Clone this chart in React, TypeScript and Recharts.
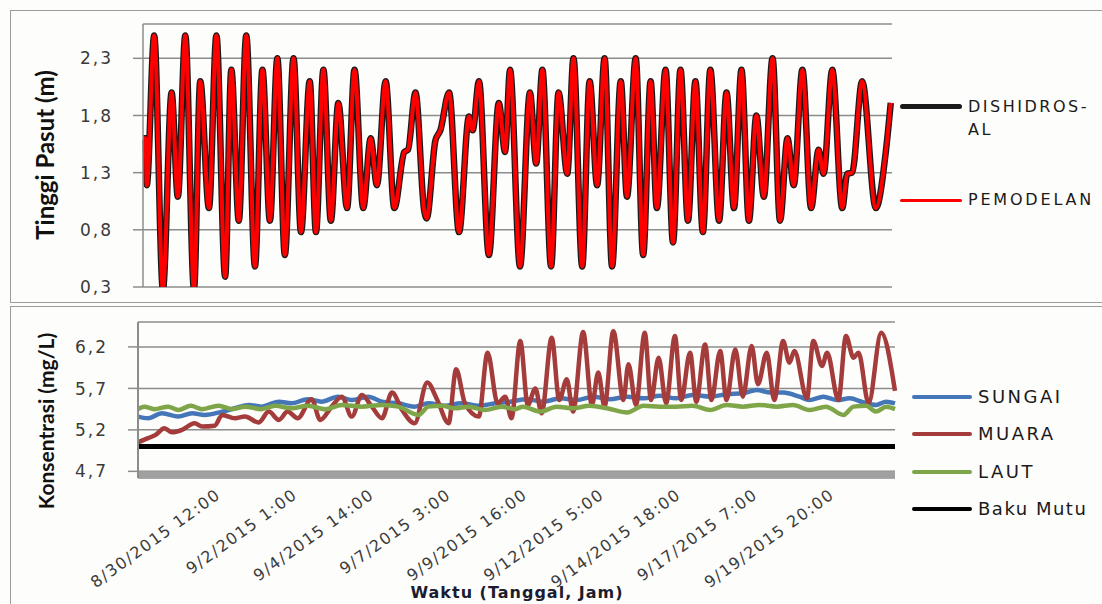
import React from 'react';
import { LineChart, Line, XAxis, YAxis, CartesianGrid, ReferenceArea } from 'recharts';

// x values are hours from the first record (hourly data, 8/27/2015 19:00 = 0)
const TIDE_TICKS = [0.3, 0.8, 1.3, 1.8, 2.3];
const CONC_TICKS = [4.7, 5.2, 5.7, 6.2];
const TIME_TICKS = [65, 126, 187, 248, 309, 370, 431, 492, 553];
const TIME_LABELS = [
  '8/30/2015 12:00', '9/2/2015 1:00', '9/4/2015 14:00', '9/7/2015 3:00', '9/9/2015 16:00',
  '9/12/2015 5:00', '9/14/2015 18:00', '9/17/2015 7:00', '9/19/2015 20:00',
];

// tide height (m): [hour, value] at each turning point
const PEMODELAN: [number, number][] = [
  [0, 1.6], [2, 1.6], [3, 1.19], [9, 2.5], [16, 0.28], [23, 2.0], [28, 1.09], [34, 2.5], [41, 0.28],
  [46, 2.1], [53, 0.99], [59, 2.5], [66, 0.39], [71, 2.2], [77, 0.88], [83, 2.5], [90, 0.48], [96, 2.2],
  [102, 0.88], [108, 2.3], [114, 0.58], [121, 2.3], [127, 0.78], [134, 2.1], [139, 0.78], [145, 2.2],
  [151, 0.88], [157, 1.91], [164, 0.99], [170, 2.2], [177, 0.99], [183, 1.6], [188, 1.19], [195, 2.1],
  [202, 0.99], [210, 1.48], [213, 1.5], [219, 2.0], [226, 0.97], [228, 0.9], [235, 1.58], [239, 1.67],
  [246, 2.0], [254, 0.78], [262, 1.79], [265, 1.67], [270, 2.1], [278, 0.58], [286, 1.91], [291, 1.48],
  [295, 2.2], [303, 0.48], [311, 2.0], [316, 1.38], [321, 2.2], [328, 0.48], [334, 2.0], [341, 1.29],
  [346, 2.3], [353, 0.48], [359, 2.1], [365, 1.19], [371, 2.3], [377, 0.48], [384, 2.1], [389, 1.09],
  [396, 2.3], [402, 0.58], [408, 2.1], [413, 0.99], [420, 2.2], [426, 0.69], [432, 2.2], [438, 0.88],
  [444, 2.1], [450, 0.78], [456, 2.2], [463, 0.88], [469, 2.0], [475, 0.99], [481, 2.2], [487, 0.88],
  [493, 1.8], [499, 1.09], [506, 2.3], [512, 0.88], [518, 1.6], [523, 1.19], [530, 2.2], [537, 0.99],
  [543, 1.5], [547, 1.29], [554, 2.2], [562, 0.99], [566, 1.29], [570, 1.3], [578, 2.1], [589, 0.99],
  [597, 1.48], [601, 1.91],
];
// observed tide overlaps the model everywhere in the picture
const DISHIDROS: [number, number][] = PEMODELAN.map(([h, v]) => [h, v]);

// concentration (mg/L)
const SUNGAI: [number, number][] = [
  [0, 5.36], [8, 5.34], [19, 5.4], [32, 5.36], [43, 5.4], [53, 5.38], [67, 5.42], [77, 5.46], [88, 5.5],
  [98, 5.48], [112, 5.54], [122, 5.52], [135, 5.57], [146, 5.54], [159, 5.6], [170, 5.56], [183, 5.6],
  [194, 5.54], [207, 5.52], [220, 5.48], [231, 5.52], [244, 5.49], [257, 5.52], [271, 5.49], [284, 5.52],
  [296, 5.54], [309, 5.57], [322, 5.54], [336, 5.58], [349, 5.56], [362, 5.6], [375, 5.57], [389, 5.6],
  [402, 5.58], [415, 5.61], [428, 5.58], [441, 5.62], [455, 5.6], [468, 5.63], [481, 5.64], [492, 5.68],
  [503, 5.65], [513, 5.65], [526, 5.6], [534, 5.56], [545, 5.6], [556, 5.56], [566, 5.58], [577, 5.53],
  [587, 5.5], [595, 5.54], [602, 5.52],
];
const MUARA: [number, number][] = [
  [0, 5.05], [8, 5.1], [14, 5.14], [21, 5.22], [27, 5.17], [35, 5.2], [45, 5.28], [51, 5.24], [61, 5.25],
  [67, 5.38], [77, 5.34], [85, 5.36], [96, 5.29], [104, 5.42], [112, 5.32], [119, 5.42], [127, 5.34],
  [138, 5.57], [145, 5.32], [154, 5.48], [162, 5.6], [170, 5.36], [178, 5.62], [186, 5.48], [194, 5.34],
  [202, 5.65], [210, 5.44], [220, 5.28], [230, 5.77], [238, 5.56], [247, 5.28], [253, 5.93], [260, 5.52],
  [271, 5.36], [278, 6.13], [286, 5.52], [292, 5.6], [297, 5.34], [304, 6.27], [310, 5.5], [316, 5.7],
  [321, 5.4], [329, 6.31], [335, 5.56], [341, 5.81], [346, 5.42], [354, 6.38], [361, 5.5], [366, 5.89],
  [371, 5.48], [378, 6.39], [386, 5.56], [390, 5.99], [396, 5.5], [403, 6.37], [408, 5.56], [414, 6.07],
  [420, 5.52], [427, 6.33], [432, 5.56], [439, 6.13], [444, 5.54], [451, 6.23], [456, 5.56], [463, 6.15],
  [468, 5.56], [475, 6.17], [481, 5.6], [488, 6.21], [493, 5.75], [500, 6.13], [506, 5.56], [513, 6.27],
  [518, 6.01], [522, 6.15], [532, 5.58], [537, 6.27], [544, 5.97], [548, 6.13], [557, 5.56], [563, 6.33],
  [569, 6.07], [573, 6.13], [581, 5.52], [591, 6.37], [602, 5.67],
];
const LAUT: [number, number][] = [
  [0, 5.45], [5, 5.48], [13, 5.45], [24, 5.48], [32, 5.44], [42, 5.49], [51, 5.45], [64, 5.49], [75, 5.45],
  [85, 5.48], [98, 5.45], [109, 5.49], [122, 5.46], [135, 5.49], [149, 5.45], [162, 5.5], [178, 5.48],
  [194, 5.5], [207, 5.48], [223, 5.38], [231, 5.48], [242, 5.49], [252, 5.46], [263, 5.48], [276, 5.44],
  [289, 5.48], [300, 5.45], [306, 5.48], [320, 5.42], [333, 5.48], [346, 5.46], [359, 5.49], [373, 5.46],
  [389, 5.41], [402, 5.49], [415, 5.48], [428, 5.48], [441, 5.49], [455, 5.44], [468, 5.5], [481, 5.48],
  [494, 5.5], [508, 5.48], [521, 5.5], [534, 5.44], [547, 5.48], [561, 5.38], [569, 5.48], [579, 5.49],
  [587, 5.42], [595, 5.48], [602, 5.45],
];
const BAKU_MUTU: [number, number][] = [[0, 5.0], [602, 5.0]];

const toRows = (pts: [number, number][]) => pts.map(([h, v]) => ({ h, v }));
const comma = (v: number) => v.toFixed(1).replace('.', ',');

const YTick = (props: any) => {
  const { x, y, payload } = props;
  return (
    <text x={x} y={y} dy="0.36em" textAnchor="end" fontSize={17} letterSpacing={2}
      fontFamily="DejaVu Sans" fill="#3a3a3a">
      {comma(payload.value)}
    </text>
  );
};

const TimeTick = (props: any) => {
  const { x, y, payload } = props;
  const i = TIME_TICKS.indexOf(payload.value);
  return (
    <g transform={`translate(${x + 2},${y}) rotate(-36)`}>
      <text x={0} y={0} textAnchor="end" fontSize={16} letterSpacing={1.5}
        fontFamily="DejaVu Sans" fill="#3c3c3c">
        {TIME_LABELS[i]}
      </text>
    </g>
  );
};

const Swatch = ({ x, y, w, color, thick }: any) => (
  <div style={{ position: 'absolute', left: x, top: y - thick / 2, width: w, height: thick, background: color, borderRadius: thick / 2 }} />
);

const Txt = ({ x, y, size, children, spacing = 2 }: any) => (
  <div style={{ position: 'absolute', left: x, top: y - 12, height: 24, lineHeight: '24px', fontSize: size, letterSpacing: spacing, color: '#1a1a1a', fontFamily: 'DejaVu Sans', whiteSpace: 'nowrap' }}>
    {children}
  </div>
);

const VTitle = ({ cx, cy, size, children }: any) => (
  <div style={{ position: 'absolute', left: cx - 150, top: cy - 15, width: 300, height: 30, lineHeight: '30px', textAlign: 'center', transform: 'rotate(-90deg)', fontFamily: 'Lato', fontWeight: 700, fontSize: size, color: '#111' }}>
    {children}
  </div>
);

export default function App() {
  return (
    <div style={{ position: 'absolute', left: 0, top: 0, width: 1102, height: 604, overflow: 'hidden', background: '#fdfdfb' }}>
      <div style={{ position: 'absolute', left: 10, top: 10, width: 1100, height: 291, border: '1.5px solid #9c9c9c' }} />
      <div style={{ position: 'absolute', left: 10, top: 306, width: 1100, height: 400, border: '1.5px solid #9c9c9c' }} />

      <div style={{ position: 'absolute', left: 0, top: 0 }}>
        <LineChart width={1102} height={300} margin={{ top: 24, right: 210, bottom: 13, left: 0 }}>
          <CartesianGrid vertical={false} stroke="#8c8c8c" strokeWidth={1.5} />
          <XAxis type="number" dataKey="h" domain={[0, 602]} hide />
          <YAxis type="number" width={143} domain={[0.3, 2.6]} ticks={TIDE_TICKS} interval={0} allowDataOverflow
            axisLine={{ stroke: '#8c8c8c', strokeWidth: 1.5 }} tickLine={{ stroke: '#8c8c8c', strokeWidth: 1.5 }}
            tickSize={10} tickMargin={20} tick={<YTick />} />
          <Line data={toRows(DISHIDROS)} dataKey="v" type="monotone" stroke="#1a1a1a" strokeWidth={6.5}
            dot={false} isAnimationActive={false} strokeLinejoin="round" />
          <Line data={toRows(PEMODELAN)} dataKey="v" type="monotone" stroke="#ff0000" strokeWidth={4}
            dot={false} isAnimationActive={false} strokeLinejoin="round" />
        </LineChart>
      </div>

      <div style={{ position: 'absolute', left: 0, top: 300 }}>
        <LineChart width={1102} height={304} margin={{ top: 22, right: 207, bottom: 6, left: 0 }}>
          <CartesianGrid vertical={false} stroke="#8c8c8c" strokeWidth={1.5} />
          <XAxis type="number" dataKey="h" domain={[0, 602]} ticks={TIME_TICKS} interval={0}
            axisLine={false} tickLine={false} tickSize={0} tickMargin={19} height={120} tick={<TimeTick />} />
          <YAxis type="number" width={138} domain={[4.62, 6.5]} ticks={CONC_TICKS} interval={0} allowDataOverflow
            axisLine={{ stroke: '#8c8c8c', strokeWidth: 2 }} tickLine={{ stroke: '#8c8c8c', strokeWidth: 1.5 }}
            tickSize={10} tickMargin={20} tick={<YTick />} />
          <ReferenceArea y1={4.62} y2={4.7} fill="#a0a0a0" fillOpacity={1} stroke="none" />
          <Line data={toRows(SUNGAI)} dataKey="v" type="monotone" stroke="#4577b8" strokeWidth={4.5}
            dot={false} isAnimationActive={false} strokeLinejoin="round" />
          <Line data={toRows(MUARA)} dataKey="v" type="monotone" stroke="#a53c3c" strokeWidth={4.5}
            dot={false} isAnimationActive={false} strokeLinejoin="round" />
          <Line data={toRows(LAUT)} dataKey="v" type="monotone" stroke="#7ea648" strokeWidth={4.5}
            dot={false} isAnimationActive={false} strokeLinejoin="round" />
          <Line data={toRows(BAKU_MUTU)} dataKey="v" type="linear" stroke="#000000" strokeWidth={5}
            dot={false} isAnimationActive={false} />
        </LineChart>
      </div>

      <VTitle cx={45} cy={155} size={24}>Tinggi Pasut (m)</VTitle>
      <VTitle cx={46} cy={421} size={21}>Konsentrasi (mg/L)</VTitle>
      <div style={{ position: 'absolute', left: 367, top: 583, width: 300, textAlign: 'center', fontFamily: 'DejaVu Sans', fontWeight: 700, fontSize: 16, letterSpacing: 1, color: '#1c1c30' }}>
        Waktu (Tanggal, Jam)
      </div>

      <Swatch x={900} y={106} w={62} color="#1a1a1a" thick={5} />
      <Txt x={968} y={107} size={16} spacing={2.5}>DISHIDROS-</Txt>
      <Txt x={968} y={130} size={16} spacing={2.5}>AL</Txt>
      <Swatch x={900} y={200} w={62} color="#ff0000" thick={3} />
      <Txt x={968} y={200} size={16} spacing={2.8}>PEMODELAN</Txt>

      <Swatch x={912} y={397} w={60} color="#4577b8" thick={4.5} />
      <Txt x={978} y={397} size={18} spacing={2.5}>SUNGAI</Txt>
      <Swatch x={912} y={434} w={60} color="#a53c3c" thick={4.5} />
      <Txt x={978} y={434} size={18} spacing={2.5}>MUARA</Txt>
      <Swatch x={912} y={472} w={60} color="#7ea648" thick={4.5} />
      <Txt x={978} y={472} size={18} spacing={2.5}>LAUT</Txt>
      <Swatch x={912} y={509} w={60} color="#000000" thick={4.5} />
      <Txt x={978} y={509} size={18} spacing={1.5}>Baku Mutu</Txt>
    </div>
  );
}
